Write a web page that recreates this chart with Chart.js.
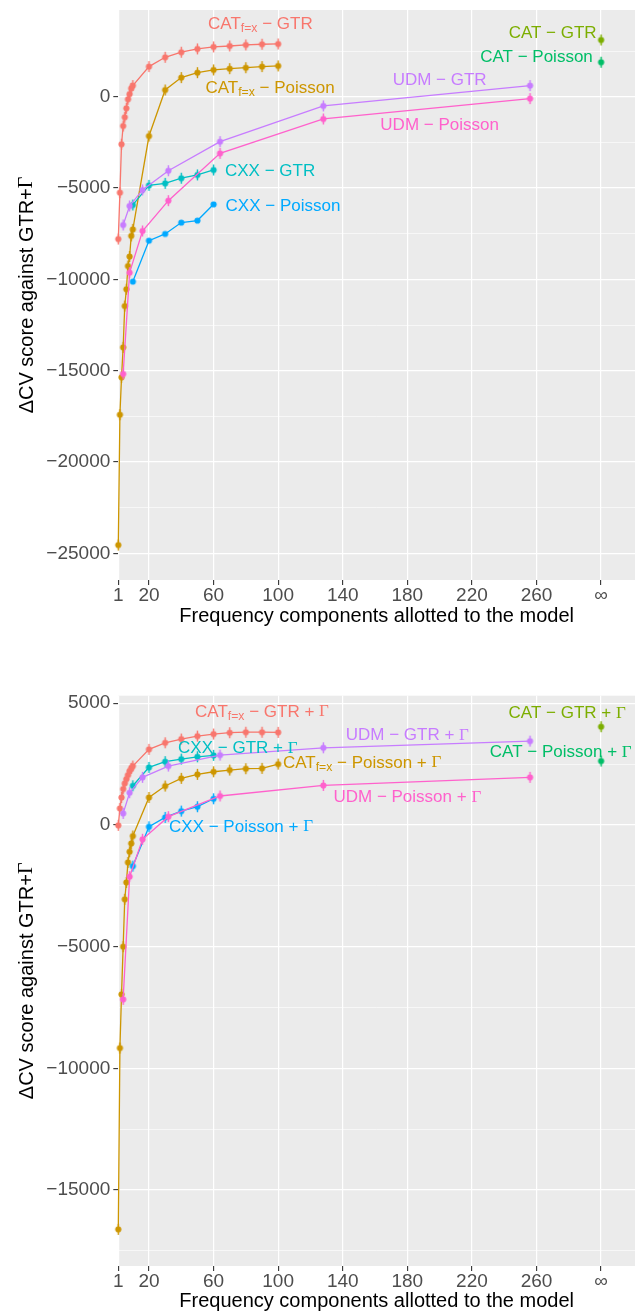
<!DOCTYPE html>
<html><head><meta charset="utf-8">
<script src="https://cdn.jsdelivr.net/npm/chart.js@4.4.0/dist/chart.umd.min.js"></script>
<style>
html,body{margin:0;padding:0;background:#fff;}
canvas{display:block;}
</style></head><body>
<canvas id="top" width="635" height="640"></canvas>
<canvas id="bot" width="635" height="672"></canvas>
<script>
// ---------- categories (x positions: number of frequency components) ----------
const catfxX = [1,2,3,4,5,6,7,8,9,10,20,30,40,50,60,70,80,90,100];
const udmX   = [4,8,16,32,64,128,256];
const cxxX   = [10,20,30,40,50,60];
const catX   = [300];            // drawn at the "∞" tick
const xTickValues = [1,20,60,100,140,180,220,260,300];
const xTickLabels = ['1','20','60','100','140','180','220','260','\u221E'];

// ---------- top panel: series values (ΔCV score) ----------
const catfxGtr     = [-7790,-5250,-2600,-1600,-1120,-630,-140,150,465,610,1650,2160,2440,2620,2730,2780,2840,2875,2890];
const catfxPoisson = [-24545,-17410,-15360,-13720,-11460,-10540,-9270,-8750,-7620,-7260,-2150,370,1050,1320,1470,1540,1590,1650,1690];
const catGtr       = [3110];
const catPoisson   = [1890];
const cxxGtr       = [-5925,-4850,-4740,-4460,-4280,-4010];
const cxxPoisson   = [-10120,-7880,-7510,-6890,-6780,-5890];
const udmGtr       = [-7020,-5980,-5100,-4050,-2460,-500,610];
const udmPoisson   = [-15180,-9630,-7350,-5690,-3100,-1215,-100];
const yTicksTop    = [-25000,-20000,-15000,-10000,-5000,0];

// ---------- bottom panel: series values (+Γ models) ----------
const catfxGtrG     = [-16,680,1130,1475,1710,1885,2050,2215,2325,2420,3105,3375,3530,3650,3735,3790,3810,3810,3805];
const catfxPoissonG = [-16615,-9165,-6960,-5000,-3055,-2360,-1540,-1100,-760,-455,1130,1600,1915,2080,2185,2255,2310,2325,2500];
const catGtrG       = [4035];
const catPoissonG   = [2625];
const cxxGtrG       = [1610,2365,2600,2705,2800,2860];
const cxxPoissonG   = [-1690,-75,310,570,750,1075];
const udmGtrG       = [475,1325,1955,2420,2870,3170,3445];
const udmPoissonG   = [-7165,-2125,-590,340,1190,1625,1955];
const yTicksBot     = [-15000,-10000,-5000,0,5000];

// ---------- styles ----------
const COL = {
  catfxGtr:'#F8766D', catfxPoisson:'#CD9600', catGtr:'#7CAE00', catPoisson:'#00BE67',
  cxxGtr:'#00BFC4', cxxPoisson:'#00A9FF', udmGtr:'#C77CFF', udmPoisson:'#FF61CC'
};
const SANS = '"Liberation Sans", Arial, Helvetica, sans-serif';
const SERIF = '"Liberation Serif", "Times New Roman", serif';
const LABEL_SIZE = 17;

function marker(color, bar) {
  const c = document.createElement('canvas');
  c.width = 9; c.height = 15;
  const g = c.getContext('2d');
  g.fillStyle = color; g.strokeStyle = color;
  if (bar) { g.lineWidth = 1.4; g.beginPath(); g.moveTo(4.5, 2); g.lineTo(4.5, 13); g.stroke(); }
  g.beginPath(); g.arc(4.5, 7.5, 3.1, 0, Math.PI * 2); g.fill();
  return c;
}
function series(xs, ys, color, bar, order) {
  return {
    data: xs.map((x, i) => ({x: x, y: ys[i]})),
    borderColor: color, backgroundColor: color, borderWidth: 1.3,
    showLine: true, pointStyle: marker(color, bar), pointRadius: 3,
    clip: false, order: order
  };
}

// rich labels: segments [text, kind] kind: '' normal, 's' subscript, 'g' serif
function drawRich(ctx, segs, cx, cy, color, size) {
  const parts = segs.map(s => {
    const sz = s[1] === 's' ? size * 0.72 : size;
    const fam = s[1] === 'g' ? SERIF : SANS;
    const font = sz + 'px ' + fam;
    ctx.font = font;
    return {t: s[0], font: font, w: ctx.measureText(s[0]).width, dy: s[1] === 's' ? size * 0.3 : 0};
  });
  const total = parts.reduce((a, p) => a + p.w, 0);
  let x = cx - total / 2;
  ctx.fillStyle = color; ctx.textBaseline = 'middle'; ctx.textAlign = 'left';
  for (const p of parts) { ctx.font = p.font; ctx.fillText(p.t, x, cy + p.dy); x += p.w; }
}

const M = ' \u2212 ';
const labelsTop = [
  {segs: [['CAT',''],['f=x','s'],[M + 'GTR','']], x: 89, y: 3990, c: COL.catfxGtr},
  {segs: [['CAT',''],['f=x','s'],[M + 'Poisson','']], x: 95, y: 480, c: COL.catfxPoisson},
  {segs: [['UDM' + M + 'GTR','']], x: 200, y: 920, c: COL.udmGtr},
  {segs: [['UDM' + M + 'Poisson','']], x: 200, y: -1545, c: COL.udmPoisson},
  {segs: [['CAT' + M + 'GTR','']], x: 270, y: 3495, c: COL.catGtr},
  {segs: [['CAT' + M + 'Poisson','']], x: 260, y: 2180, c: COL.catPoisson},
  {segs: [['CXX' + M + 'GTR','']], x: 95, y: -4060, c: COL.cxxGtr},
  {segs: [['CXX' + M + 'Poisson','']], x: 103, y: -5980, c: COL.cxxPoisson}
];
const P = ' + ';
const labelsBot = [
  {segs: [['CAT',''],['f=x','s'],[M + 'GTR' + P,''],['\u0393','g']], x: 90, y: 4640, c: COL.catfxGtr},
  {segs: [['CXX' + M + 'GTR' + P,''],['\u0393','g']], x: 75, y: 3160, c: COL.cxxGtr},
  {segs: [['UDM' + M + 'GTR' + P,''],['\u0393','g']], x: 180, y: 3690, c: COL.udmGtr},
  {segs: [['CAT',''],['f=x','s'],[M + 'Poisson' + P,''],['\u0393','g']], x: 152, y: 2545, c: COL.catfxPoisson},
  {segs: [['UDM' + M + 'Poisson' + P,''],['\u0393','g']], x: 180, y: 1145, c: COL.udmPoisson},
  {segs: [['CXX' + M + 'Poisson' + P,''],['\u0393','g']], x: 77, y: -85, c: COL.cxxPoisson},
  {segs: [['CAT' + M + 'GTR' + P,''],['\u0393','g']], x: 279, y: 4595, c: COL.catGtr},
  {segs: [['CAT' + M + 'Poisson' + P,''],['\u0393','g']], x: 275, y: 2995, c: COL.catPoisson}
];

function makeChart(id, datasets, labels, yMin, yMax, yMajor, padTop, xHeight, titlePadBottom) {
  const isMajor = v => yMajor.indexOf(v) >= 0;
  const plugin = {
    id: 'deco' + id,
    beforeDraw(chart) {
      const a = chart.chartArea, ctx = chart.ctx;
      ctx.save(); ctx.fillStyle = '#EBEBEB';
      ctx.fillRect(a.left, a.top, a.right - a.left, a.bottom - a.top);
      ctx.restore();
    },
    afterDraw(chart) {
      const ctx = chart.ctx, xs = chart.scales.x, ys = chart.scales.y, a = chart.chartArea;
      ctx.save();
      for (const l of labels) drawRich(ctx, l.segs, xs.getPixelForValue(l.x), ys.getPixelForValue(l.y), l.c, LABEL_SIZE);
      // y axis title
      ctx.translate(27, (a.top + a.bottom) / 2);
      ctx.rotate(-Math.PI / 2);
      drawRich(ctx, [['\u0394CV score against GTR+',''],['\u0393','g']], 0, 0, '#000', 20);
      ctx.restore();
    }
  };
  return new Chart(document.getElementById(id), {
    type: 'scatter',
    data: {datasets: datasets},
    options: {
      responsive: false, animation: false, events: [],
      layout: {autoPadding: false, padding: {top: padTop, left: 0, right: 0, bottom: 0}},
      plugins: {legend: {display: false}, tooltip: {enabled: false}},
      scales: {
        x: {
          type: 'linear', min: 1, max: 321,
          afterBuildTicks: s => { s.ticks = xTickValues.map(v => ({value: v})); },
          afterFit: s => { s.height = xHeight; s.paddingLeft = 0; s.paddingRight = 0; },
          ticks: {
            autoSkip: false, maxRotation: 0, padding: -1, color: '#4D4D4D',
            font: {family: SANS, size: 19},
            callback: v => xTickLabels[xTickValues.indexOf(v)]
          },
          grid: {color: '#FFFFFF', lineWidth: 1.2, tickLength: 5, tickColor: '#333333', tickWidth: 1.1},
          border: {display: false},
          title: {display: true, text: 'Frequency components allotted to the model', color: '#000',
                  font: {family: SANS, size: 20}, padding: {top: 0, bottom: titlePadBottom}}
        },
        y: {
          type: 'linear', min: yMin, max: yMax,
          afterBuildTicks: s => {
            const t = [];
            for (let v = Math.ceil(yMin / 2500) * 2500; v <= yMax; v += 2500) t.push({value: v});
            s.ticks = t;
          },
          afterFit: s => { s.width = 118.3; s.paddingTop = 0; s.paddingBottom = 0; },
          ticks: {
            autoSkip: false, padding: 3, color: '#4D4D4D', font: {family: SANS, size: 19},
            callback: v => isMajor(v) ? (v < 0 ? '\u2212' + Math.abs(v) : String(v)) : ''
          },
          grid: {
            color: '#FFFFFF', tickLength: 5, tickWidth: 1.1,
            lineWidth: c => (c.tick && isMajor(c.tick.value)) ? 1.2 : 0.6,
            tickColor: c => (c.tick && isMajor(c.tick.value)) ? '#333333' : 'rgba(0,0,0,0)'
          },
          border: {display: false}
        }
      }
    },
    plugins: [plugin]
  });
}

makeChart('top', [
  series(catfxX, catfxGtr, COL.catfxGtr, true, 8),
  series(catfxX, catfxPoisson, COL.catfxPoisson, true, 7),
  series(catX, catGtr, COL.catGtr, true, 6),
  series(catX, catPoisson, COL.catPoisson, true, 5),
  series(cxxX, cxxGtr, COL.cxxGtr, true, 4),
  series(cxxX, cxxPoisson, COL.cxxPoisson, false, 3),
  series(udmX, udmGtr, COL.udmGtr, true, 2),
  series(udmX, udmPoisson, COL.udmPoisson, true, 1)
], labelsTop, -26460, 4750, yTicksTop, 10, 60, 11.6);

makeChart('bot', [
  series(catfxX, catfxGtrG, COL.catfxGtr, true, 8),
  series(catfxX, catfxPoissonG, COL.catfxPoisson, true, 7),
  series(catX, catGtrG, COL.catGtr, true, 6),
  series(catX, catPoissonG, COL.catPoisson, true, 5),
  series(cxxX, cxxGtrG, COL.cxxGtr, true, 4),
  series(cxxX, cxxPoissonG, COL.cxxPoisson, true, 3),
  series(udmX, udmGtrG, COL.udmGtr, true, 2),
  series(udmX, udmPoissonG, COL.udmPoisson, true, 1)
], labelsBot, -18120, 5310, yTicksBot, 55.7, 46, -1);
</script>
</body></html>
